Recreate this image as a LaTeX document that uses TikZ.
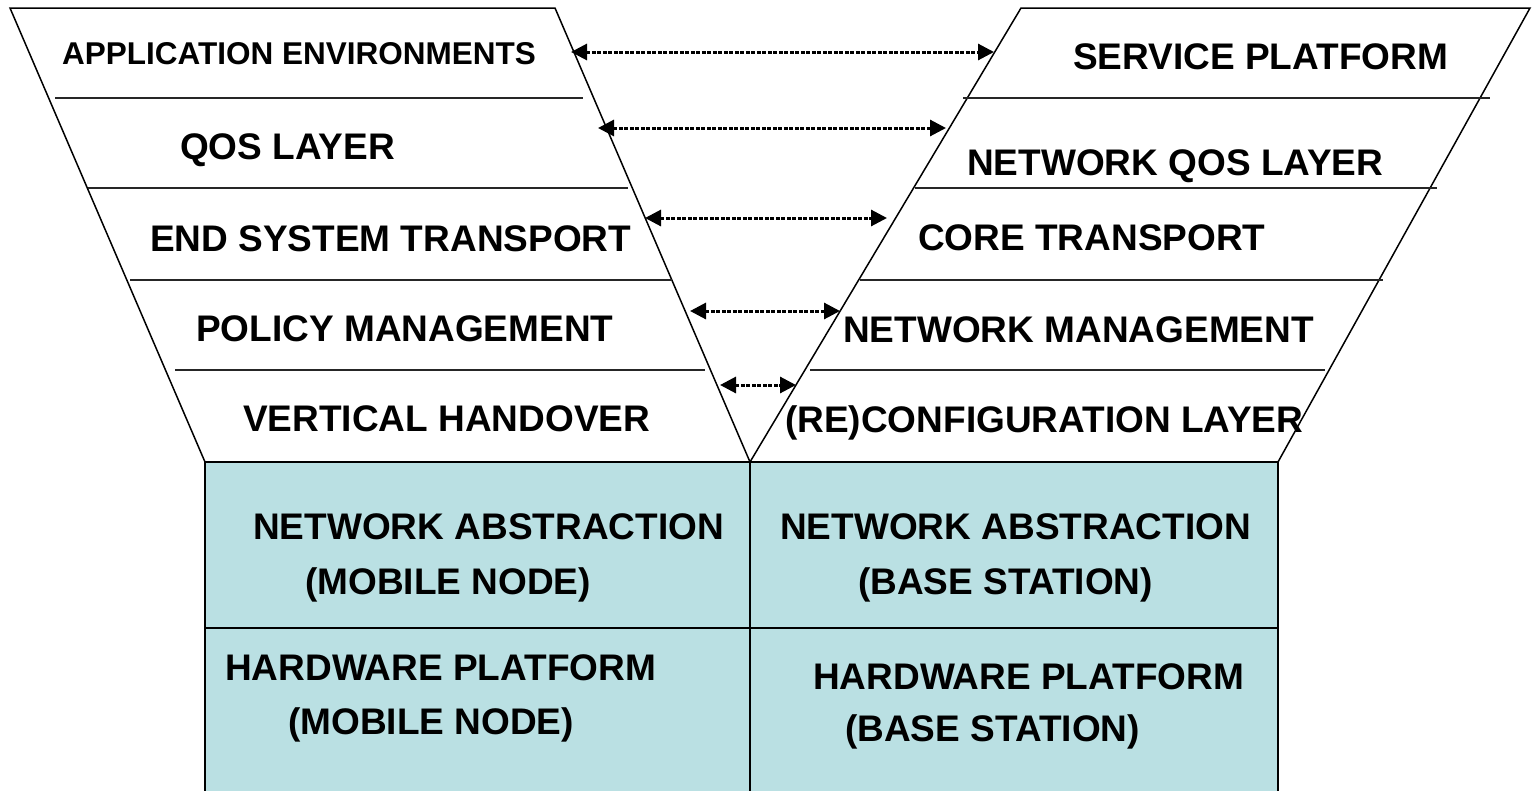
\documentclass[tikz,border=0pt]{standalone}
\usepackage{fontspec}
\setmainfont{Liberation Sans}
\usetikzlibrary{arrows.meta}
\definecolor{boxfill}{RGB}{186,224,227}
\begin{document}
\begin{tikzpicture}[x=1pt,y=-1pt,
  lbl/.style={font=\fontsize{37}{44}\selectfont\bfseries, inner sep=0pt, anchor=base west},
  smalllbl/.style={font=\fontsize{31.5}{38}\selectfont\bfseries, inner sep=0pt, anchor=base west},
  sepline/.style={line width=2pt, draw=black!85},
  trap/.style={line width=1.5pt, line join=miter},
  boxline/.style={line width=2pt},
  dblarrow/.style={line width=3pt, dash pattern=on 4pt off 1.5pt, {Triangle[length=16pt,width=16pt]}-{Triangle[length=16pt,width=16pt]}}]
\useasboundingbox (0,0) rectangle (1533,790);
% bottom boxes
\fill[boxfill] (205,462) rectangle (1278,795);
\draw[boxline] (205,795) -- (205,462) -- (1278,462) -- (1278,795);
\draw[boxline] (750,462) -- (750,795);
\draw[boxline] (205,628) -- (1278,628);
% trapezoids
\draw[trap] (205,462) -- (10,8) -- (555,8) -- (750,462) -- (1021,8) -- (1530,8) -- (1278,462);
% separators left
\draw[sepline] (55,98) -- (583,98);
\draw[sepline] (88,188) -- (628,188);
\draw[sepline] (130,280) -- (672,280);
\draw[sepline] (175,370) -- (705,370);
% separators right
\draw[sepline] (963,98) -- (1490,98);
\draw[sepline] (915,188) -- (1437,188);
\draw[sepline] (860,280) -- (1383,280);
\draw[sepline] (810,370) -- (1325,370);
% left labels
\node[smalllbl] (appenv) at (62,64) {APPLICATION ENVIRONMENTS};
\node[lbl] (qos) at (180,159) {QOS LAYER};
\node[lbl] (est) at (150,251) {END SYSTEM TRANSPORT};
\node[lbl] (pol) at (196,341) {POLICY MANAGEMENT};
\node[lbl] (vh) at (243,431) {VERTICAL HANDOVER};
% right labels
\node[lbl] (sp) at (1073,69) {SERVICE PLATFORM};
\node[lbl] (nqos) at (967,175) {NETWORK QOS LAYER};
\node[lbl] (ct) at (918,250) {CORE TRANSPORT};
\node[lbl] (nm) at (843,342) {NETWORK MANAGEMENT};
\node[lbl] (rc) at (785,432) {(RE)CONFIGURATION LAYER};
% bottom labels
\node[lbl] (na1) at (253,539) {NETWORK ABSTRACTION};
\node[lbl] (na1b) at (305,594) {(MOBILE NODE)};
\node[lbl] (na2) at (780,539) {NETWORK ABSTRACTION};
\node[lbl] (na2b) at (858,594) {(BASE STATION)};
\node[lbl] (hp1) at (225,680) {HARDWARE PLATFORM};
\node[lbl] (hp1b) at (288,734) {(MOBILE NODE)};
\node[lbl] (hp2) at (813,689) {HARDWARE PLATFORM};
\node[lbl] (hp2b) at (845,741) {(BASE STATION)};
% arrow endpoints
\coordinate (a1l) at (571,52);  \coordinate (a1r) at (994,52);
\coordinate (a2l) at (598,128); \coordinate (a2r) at (946,128);
\coordinate (a3l) at (645,218); \coordinate (a3r) at (887,218);
\coordinate (a4l) at (690,311); \coordinate (a4r) at (840,311);
\coordinate (a5l) at (720,385); \coordinate (a5r) at (796,385);
\draw[dblarrow] (a1l) -- (a1r);
\draw[dblarrow] (a2l) -- (a2r);
\draw[dblarrow] (a3l) -- (a3r);
\draw[dblarrow] (a4l) -- (a4r);
\draw[dblarrow] (a5l) -- (a5r);
\end{tikzpicture}
\end{document}
